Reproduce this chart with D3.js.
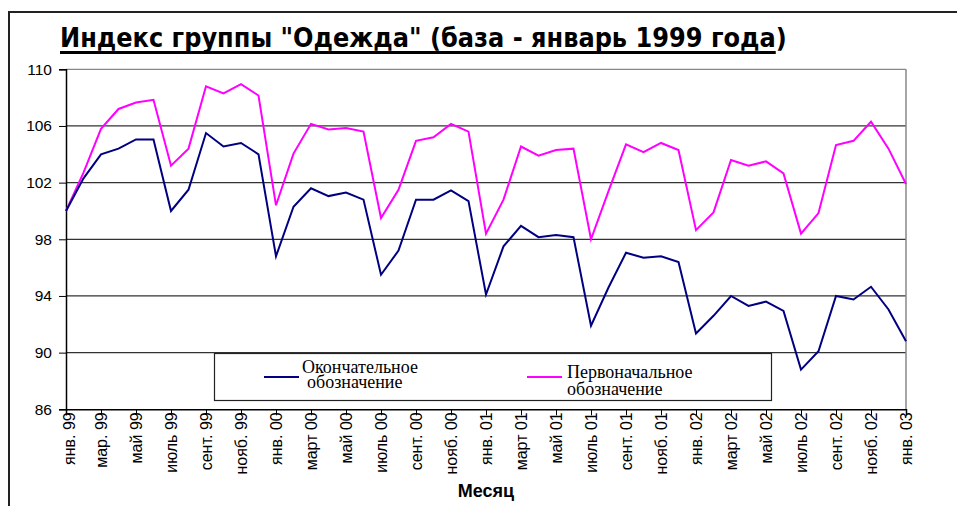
<!DOCTYPE html>
<html>
<head>
<meta charset="utf-8">
<script src="https://cdn.jsdelivr.net/npm/d3@7"></script>
<style>
  body { margin: 0; background: #fff; }
  svg { display: block; }
</style>
</head>
<body>
<svg id="chart" width="957" height="506"></svg>
<script>
// monthly index, Jan 1999 = 100
const finalValues = [
  100.0, 102.3, 104.0, 104.4, 105.05, 105.05, 100.0, 101.5, 105.5, 104.55, 104.8, 104.0,
  96.8, 100.3, 101.6, 101.05, 101.3, 100.8, 95.5, 97.2, 100.8, 100.8, 101.45, 100.7,
  94.1, 97.5, 98.95, 98.15, 98.3, 98.15, 91.9, 94.6, 97.05, 96.7, 96.8, 96.4,
  91.35, 92.6, 94.0, 93.3, 93.6, 92.95, 88.8, 90.1, 94.0, 93.75, 94.65, 93.05,
  90.8,
];
const prelimValues = [
  100.0, 102.7, 105.8, 107.2, 107.65, 107.85, 103.2, 104.4, 108.8, 108.3, 108.95, 108.15,
  100.4, 104.05, 106.15, 105.75, 105.85, 105.6, 99.5, 101.5, 104.95, 105.2, 106.15, 105.6,
  98.4, 100.8, 104.55, 103.9, 104.3, 104.4, 98.0, 101.4, 104.7, 104.15, 104.8, 104.3,
  98.65, 99.9, 103.6, 103.2, 103.5, 102.65, 98.4, 99.85, 104.65, 104.95, 106.3, 104.4,
  101.9,
];
// one label every second month
const monthLabels = [
  'янв. 99', 'мар. 99', 'май 99', 'июль 99', 'сент. 99', 'нояб. 99',
  'янв. 00', 'март 00', 'май 00', 'июль 00', 'сент. 00', 'нояб. 00',
  'янв. 01', 'март 01', 'май 01', 'июль 01', 'сент. 01', 'нояб. 01',
  'янв. 02', 'март 02', 'май 02', 'июль 02', 'сент. 02', 'нояб. 02',
  'янв. 03',
];
const yTicks = [86, 90, 94, 98, 102, 106, 110];
const seriesNames = [
  ['Окончательное', 'обозначение'],
  ['Первоначальное', 'обозначение'],
];

const svg = d3.select('#chart');
const plotLeft = 66;
const plotRight = 906;
const plotTop = 69.3;
const plotBottom = 409.3;

const x = d3.scaleLinear().domain([0, finalValues.length - 1]).range([plotLeft, plotRight]);
const y = d3.scaleLinear().domain([86, 110]).range([plotBottom, plotTop]);

// outer frame (only left and top edges are visible)
svg.append('path')
  .attr('d', 'M9,506V12H957')
  .attr('fill', 'none')
  .attr('stroke', '#222')
  .attr('stroke-width', 2);

// title, underlined except the closing bracket
const titleMain = 'Индекс группы "Одежда" (база - январь 1999 года';
const title = svg.append('text')
  .attr('x', 60)
  .attr('y', 47)
  .attr('font-family', 'DejaVu Sans, Verdana, sans-serif')
  .attr('font-weight', 'bold')
  .attr('font-size', 27)
  .attr('fill', '#000');
const tMain = title.append('tspan').text(titleMain);
title.append('tspan').text(')');
const fullW = title.node().getComputedTextLength();
const scaleT = 727 / fullW;
title.attr('transform', `translate(60,0) scale(${scaleT},1) translate(-60,0)`);
const mainW = tMain.node().getComputedTextLength() * scaleT;
svg.append('rect')
  .attr('x', 60)
  .attr('y', 51)
  .attr('width', mainW)
  .attr('height', 3)
  .attr('fill', '#000');

// plot area
const plot = svg.append('g');

plot.append('g')
  .selectAll('line')
  .data(yTicks.filter(d => d > 86))
  .join('line')
  .attr('x1', plotLeft)
  .attr('x2', plotRight)
  .attr('y1', d => y(d))
  .attr('y2', d => y(d))
  .attr('stroke', d => (d === 110 ? '#888' : '#333'))
  .attr('stroke-width', 1.2);

plot.append('line')
  .attr('x1', plotRight).attr('x2', plotRight)
  .attr('y1', plotTop).attr('y2', plotBottom)
  .attr('stroke', '#888')
  .attr('stroke-width', 1.5);

const yAxis = d3.axisLeft(y)
  .tickValues(yTicks)
  .tickSize(7)
  .tickPadding(7)
  .tickFormat(d3.format('d'));
const yG = plot.append('g')
  .attr('transform', `translate(${plotLeft},0)`)
  .call(yAxis);
yG.select('.domain').attr('stroke', '#000').attr('stroke-width', 1.5);
yG.selectAll('.tick line').attr('stroke', '#000');
yG.selectAll('.tick text')
  .attr('font-family', 'Liberation Sans, Arial, sans-serif')
  .attr('font-size', 15.5)
  .attr('fill', '#000');

const xAxis = d3.axisBottom(x)
  .tickValues(d3.range(0, finalValues.length, 2))
  .tickSize(6)
  .tickFormat((d, i) => monthLabels[i]);
const xG = plot.append('g')
  .attr('transform', `translate(0,${plotBottom})`)
  .call(xAxis);
xG.select('.domain').attr('stroke', '#000').attr('stroke-width', 1.5);
xG.selectAll('.tick line').attr('stroke', '#000');
xG.selectAll('.tick text')
  .attr('font-family', 'Liberation Sans, Arial, sans-serif')
  .attr('font-size', 16)
  .attr('fill', '#000')
  .attr('text-anchor', 'end')
  .attr('transform', 'rotate(-90)')
  .attr('x', -3)
  .attr('y', (d, i) => (i === 0 ? 3 : 0))
  .attr('dy', '0.35em');

const line = d3.line()
  .x((d, i) => x(i))
  .y(d => y(d));

// legend box sits over the bottom gridlines, under the lines
const legend = svg.append('g');
legend.append('rect')
  .attr('x', 214.5)
  .attr('y', 353.5)
  .attr('width', 557)
  .attr('height', 47)
  .attr('fill', '#fff')
  .attr('stroke', '#222')
  .attr('stroke-width', 1.2);

const legendItems = [
  { color: '#000080', x1: 264, x2: 299, textX: 302, lines: seriesNames[0], y0: 373, dy: 15, dx2: 5 },
  { color: '#ff00ff', x1: 527, x2: 562, textX: 567, lines: seriesNames[1], y0: 378, dy: 17, dx2: 0 },
];
legendItems.forEach(item => {
  legend.append('line')
    .attr('x1', item.x1).attr('x2', item.x2)
    .attr('y1', 377).attr('y2', 377)
    .attr('stroke', item.color)
    .attr('stroke-width', 2);
  const t = legend.append('text')
    .attr('font-family', 'Liberation Serif, Times New Roman, serif')
    .attr('font-size', 18)
    .attr('fill', '#000');
  t.append('tspan').attr('x', item.textX).attr('y', item.y0).text(item.lines[0]);
  t.append('tspan').attr('x', item.textX + item.dx2).attr('y', item.y0 + item.dy).text(item.lines[1]);
});

svg.append('path')
  .datum(prelimValues)
  .attr('d', line)
  .attr('fill', 'none')
  .attr('stroke', '#ff00ff')
  .attr('stroke-width', 2);

svg.append('path')
  .datum(finalValues)
  .attr('d', line)
  .attr('fill', 'none')
  .attr('stroke', '#000080')
  .attr('stroke-width', 2);

// axis title
svg.append('text')
  .attr('x', 486)
  .attr('y', 497)
  .attr('text-anchor', 'middle')
  .attr('font-family', 'Liberation Sans, Arial, sans-serif')
  .attr('font-weight', 'bold')
  .attr('font-size', 18)
  .attr('fill', '#000')
  .text('Месяц');
</script>
</body>
</html>
